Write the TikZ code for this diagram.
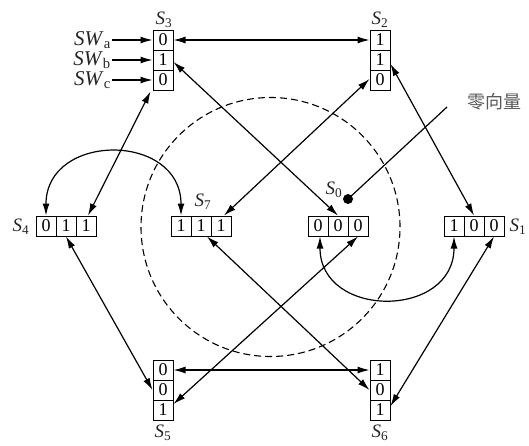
\documentclass[tikz,border=0pt]{standalone}
\usepackage{fontspec}
\setmainfont{Liberation Serif}
\newfontfamily\cjk{Noto Sans CJK SC}
\usetikzlibrary{arrows.meta}
\tikzset{
  cell/.style={draw, line width=1pt, minimum width=20pt, minimum height=20pt, inner sep=0pt,
    font=\fontsize{18}{18}\selectfont},
  lbl/.style={inner sep=1pt, font=\fontsize{19}{19}\selectfont, text=black!85},
  swl/.style={inner sep=1pt, anchor=east, font=\fontsize{21}{21}\selectfont, text=black!85},
  conn/.style={line width=1.2pt},
  dbl/.style={conn, {Latex[length=12pt,width=7pt]}-{Latex[length=12pt,width=7pt]}},
  arr/.style={conn, -{Latex[length=12pt,width=7pt]}},
}
\newcommand{\Slab}[1]{\textit{S}\textsubscript{#1}}
\begin{document}
\begin{tikzpicture}[x=1pt,y=-1pt]
\useasboundingbox (0,0) rectangle (529,445);
% dashed circle
\draw[line width=1.1pt, dash pattern=on 7pt off 4pt] (270.5,227) circle[radius=129.5pt];
% vertical boxes
\node[cell] (S3a) at (163,40) {0};
\node[cell] (S3b) at (163,60) {1};
\node[cell] (S3c) at (163,80) {0};
\node[cell] (S2a) at (380,40) {1};
\node[cell] (S2b) at (380,60) {1};
\node[cell] (S2c) at (380,80) {0};
\node[cell] (S5a) at (163,370) {0};
\node[cell] (S5b) at (163,390) {0};
\node[cell] (S5c) at (163,410) {1};
\node[cell] (S6a) at (380,370) {1};
\node[cell] (S6b) at (380,390) {0};
\node[cell] (S6c) at (380,410) {1};
% horizontal boxes
\node[cell] (S4a) at (46,226) {0};
\node[cell] (S4b) at (66,226) {1};
\node[cell] (S4c) at (86,226) {1};
\node[cell] (S7a) at (181,226) {1};
\node[cell] (S7b) at (201,226) {1};
\node[cell] (S7c) at (221,226) {1};
\node[cell] (S0a) at (318,226) {0};
\node[cell] (S0b) at (338,226) {0};
\node[cell] (S0c) at (358,226) {0};
\node[cell] (S1a) at (454,226) {1};
\node[cell] (S1b) at (474,226) {0};
\node[cell] (S1c) at (494,226) {0};
% labels
\node[lbl] (L3) at (164,20) {\Slab{3}};
\node[lbl] (L2) at (380,20) {\Slab{2}};
\node[lbl] (L4) at (21,227) {\Slab{4}};
\node[lbl] (L7) at (203,202) {\Slab{7}};
\node[lbl] (L0) at (334,190) {\Slab{0}};
\node[lbl] (L1) at (518,227) {\Slab{1}};
\node[lbl] (L5) at (163,433) {\Slab{5}};
\node[lbl] (L6) at (380,433) {\Slab{6}};
% SW inputs
\node[swl] (SWa) at (112,40) {\textit{SW}\textsubscript{a}};
\node[swl] (SWb) at (112,60) {\textit{SW}\textsubscript{b}};
\node[swl] (SWc) at (112,80) {\textit{SW}\textsubscript{c}};
\draw[arr] (SWa.east) -- (S3a.west);
\draw[arr] (SWb.east) -- (S3b.west);
\draw[arr] (SWc.east) -- (S3c.west);
% straight connectors
\draw[dbl] (S3a.east) -- (S2a.west);
\draw[dbl] (S5a.east) -- (S6a.west);
\draw[dbl] ([xshift=-2pt,yshift=-1pt]S3c.south west) -- ([xshift=2pt]S4c.north);
\draw[dbl] ([yshift=-2pt]S3b.east) -- (S0b.north);
\draw[dbl] ([yshift=1pt]S2c.west) -- ([xshift=3pt]S7c.north);
\draw[dbl] ([yshift=-4pt]S2b.east) -- (S1b.north);
\draw[dbl] (S4b.south) -- (S5b.west);
\draw[dbl] ([xshift=6pt]S7b.south) -- (S6b.west);
\draw[dbl] (S0c.south) -- ([yshift=6pt]S5c.east);
\draw[dbl] (S1c.south) -- ([yshift=4pt]S6c.east);
% curved connectors
\draw[dbl] (S4a.north) .. controls (46,132) and (181,132) .. (S7a.north);
\draw[dbl] ([xshift=2pt]S0a.south) .. controls (320,319) and (454,319) .. (S1a.south);
% zero vector
\node[circle, fill, inner sep=0pt, minimum size=10pt] (dot) at (348,199) {};
\coordinate (zv) at (447,107);
\draw[conn] (dot.center) -- (zv);
\node[anchor=west, inner sep=0pt, text=black!65, font=\fontsize{18}{18}\selectfont\cjk] (ZL) at (467,102) {零向量};
\end{tikzpicture}
\end{document}
